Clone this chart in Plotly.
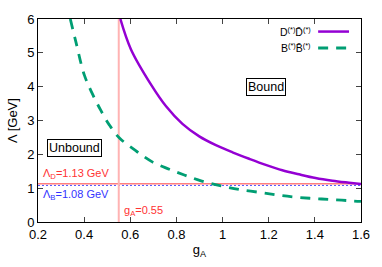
import plotly.graph_objects as go

# Data
gA_D = [0.557, 0.603, 0.690, 0.755, 0.826, 0.899, 0.971, 1.043, 1.115, 1.187, 1.259, 1.331, 1.403, 1.476, 1.548, 1.60]
lam_D = [6.0, 5.1, 4.06, 3.42, 2.90, 2.53, 2.27, 2.06, 1.87, 1.69, 1.53, 1.41, 1.30, 1.22, 1.16, 1.12]

gA_B = [0.340, 0.365, 0.401, 0.437, 0.473, 0.509, 0.552, 0.625, 0.697, 0.769, 0.834, 0.91, 1.0, 1.072, 1.166, 1.245, 1.325, 1.404, 1.483, 1.57, 1.6]
lam_B = [6.0, 5.3, 4.34, 3.77, 3.29, 2.87, 2.49, 2.1, 1.77, 1.56, 1.39, 1.21, 1.06, 0.96, 0.87, 0.79, 0.73, 0.69, 0.66, 0.62, 0.61]

lambda_D = 1.13
lambda_B = 1.08
gA_crit = 0.55

x_ticks = [0.2, 0.4, 0.6, 0.8, 1.0, 1.2, 1.4, 1.6]
x_ticklabels = ["0.2", "0.4", "0.6", "0.8", "1", "1.2", "1.4", "1.6"]
y_ticks = [0, 1, 2, 3, 4, 5, 6]

PURPLE = "#9400d3"
GREEN = "#009e73"
RED = "#ff3333"
BLUE = "#3333ff"
FONT = "Liberation Sans, Arial, sans-serif"

fig = go.Figure()

# reference lines
fig.add_trace(go.Scatter(x=[0.2, 1.6], y=[lambda_D, lambda_D], mode="lines",
                         line=dict(color="#ff7f7f", width=1.3), showlegend=False, hoverinfo="skip"))
fig.add_trace(go.Scatter(x=[0.2, 1.6], y=[lambda_B, lambda_B], mode="lines",
                         line=dict(color="#5555ff", width=1, dash="2px,2px"), showlegend=False, hoverinfo="skip"))
fig.add_trace(go.Scatter(x=[gA_crit, gA_crit], y=[0, 6], mode="lines",
                         line=dict(color="#ffb3b3", width=2), showlegend=False, hoverinfo="skip"))

fig.add_trace(go.Scatter(x=gA_D, y=lam_D, mode="lines",
                         line=dict(color=PURPLE, width=2.5, shape="spline", smoothing=1.0),
                         showlegend=False))
fig.add_trace(go.Scatter(x=gA_B, y=lam_B, mode="lines",
                         line=dict(color=GREEN, width=2.8, dash="10px,8px", shape="spline", smoothing=1.0),
                         showlegend=False))

# manual gnuplot-like legend
legend_items = [("D<sup>(*)</sup>D̄<sup>(*)</sup>", PURPLE, "solid", 25),
                ("B<sup>(*)</sup>B̄<sup>(*)</sup>", GREEN, "10px,8px", 42)]
W, H = 382, 267
L, R, T, B = 38, 20, 12, 45
pw, ph = W - L - R, H - T - B

def px_x(p):
    return (p - L) / pw

def px_y(p):
    return 1 - (p - T) / ph

for text, col, dash, ypix in legend_items:
    fig.add_annotation(x=px_x(314), y=px_y(ypix), xref="paper", yref="paper", text=text,
                       showarrow=False, xanchor="right", yanchor="middle",
                       font=dict(size=10.5, color="black", family=FONT))
    fig.add_shape(type="line", xref="paper", yref="paper", x0=px_x(319), x1=px_x(350),
                  y0=px_y(ypix), y1=px_y(ypix),
                  line=dict(color=col, width=2.5 if dash == "solid" else 2.8, dash=dash))

# boxed labels
fig.add_annotation(x=1.187, y=4.0, text="Bound", showarrow=False, bordercolor="black", borderwidth=1,
                   borderpad=1, bgcolor="white", font=dict(size=12.5, color="black", family=FONT))
fig.add_annotation(x=0.36, y=2.2, text="Unbound", showarrow=False, bordercolor="black", borderwidth=1,
                   borderpad=1, bgcolor="white", font=dict(size=12.5, color="black", family=FONT))

# colored labels
fig.add_annotation(x=0.212, y=1.42, text="Λ<sub>D</sub>=1.13 GeV", showarrow=False, xanchor="left",
                   font=dict(size=11, color=RED, family=FONT))
fig.add_annotation(x=0.212, y=0.8, text="Λ<sub>B</sub>=1.08 GeV", showarrow=False, xanchor="left",
                   font=dict(size=11, color=BLUE, family=FONT))
fig.add_annotation(x=0.562, y=0.33, text="g<sub>A</sub>=0.55", showarrow=False, xanchor="left",
                   font=dict(size=11, color=RED, family=FONT))

fig.update_layout(
    width=W, height=H,
    margin=dict(l=L, r=R, t=T, b=B),
    paper_bgcolor="white", plot_bgcolor="white",
    font=dict(family=FONT, size=13, color="black"),
    showlegend=False,
)
fig.update_xaxes(range=[0.2, 1.6], tickvals=x_ticks, ticktext=x_ticklabels, ticks="inside", ticklen=5,
                 showline=True, linecolor="black", linewidth=1, mirror="ticks", showgrid=False, zeroline=False,
                 title=dict(text="g<sub>A</sub>", standoff=4, font=dict(size=13)), tickfont=dict(size=13))
fig.update_yaxes(range=[0, 6], tickvals=y_ticks, ticks="inside", ticklen=5,
                 showline=True, linecolor="black", linewidth=1, mirror="ticks", showgrid=False, zeroline=False,
                 title=dict(text="Λ [GeV]", standoff=6, font=dict(size=13)), tickfont=dict(size=13))

fig.write_html("out.html", config={"displayModeBar": False},
               post_script="document.body.style.margin='0';document.body.style.overflow='hidden';")
